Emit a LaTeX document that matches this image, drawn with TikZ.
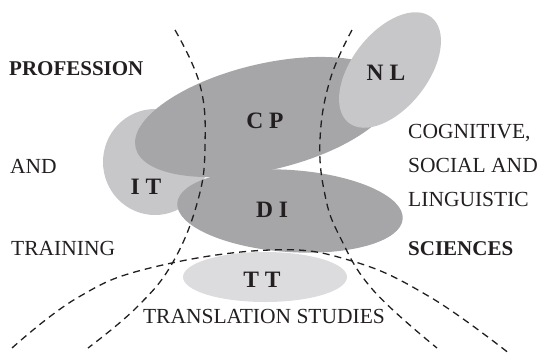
\documentclass[tikz,border=0pt]{standalone}
\usepackage{fontspec}
\setmainfont{Liberation Serif}
\definecolor{darkg}{HTML}{A6A6A9}
\definecolor{lightg}{HTML}{C7C7C9}
\definecolor{paleg}{HTML}{DCDCDE}
\definecolor{ink}{HTML}{231F20}
\begin{document}
\begin{tikzpicture}[x=1pt,y=-1pt,
  divider/.style={dash pattern=on 7pt off 5pt, line width=1.3pt, draw=ink},
  lbl/.style={font=\fontsize{23.5}{26}\selectfont\bfseries, text=ink, anchor=base, inner sep=0pt},
  side/.style={font=\fontsize{21.5}{24}\selectfont, text=ink, anchor=base west, inner sep=0pt},
  sideb/.style={side, font=\fontsize{21}{24}\selectfont\bfseries}]
\useasboundingbox (0,0) rectangle (537,357);
% shapes
\fill[lightg] (155,162) ellipse [x radius=52pt, y radius=53pt];
\fill[darkg, rotate around={13.4:(265,117)}] (265,117) ellipse [x radius=133pt, y radius=53pt];
\fill[darkg, rotate around={-4:(290,211)}] (290,211) ellipse [x radius=113pt, y radius=41pt];
\fill[paleg] (265,277) ellipse [x radius=82pt, y radius=25pt];
\fill[lightg, rotate around={52:(390,70)}] (390,70) ellipse [x radius=67pt, y radius=38pt];
% dashed dividers
\draw[divider] plot[smooth, tension=0.7] coordinates {(175,30) (200,85) (205,145) (198,200) (173,262) (137,307) (88,348)};
\draw[divider] plot[smooth, tension=0.7] coordinates {(352,30) (330,80) (320,140) (325,195) (340,237) (373,290) (437,348)};
\draw[divider] plot[smooth, tension=0.7] coordinates {(12,348) (77,298) (150,268) (270,250) (352,261) (430,297) (510,354)};
% labels
\node[lbl] (cp) at (265,128) {C P};
\node[lbl] (nl) at (386,80) {N L};
\node[lbl] (it) at (146,194) {I T};
\node[lbl] (di) at (272,217) {D I};
\node[lbl] (tt) at (262,287) {T T};
% side texts
\node[sideb] (prof) at (9,75) {PROFESSION};
\node[side] (and) at (10,173) {AND};
\node[side] (train) at (11,255) {TRAINING};
\node[side] (cog) at (408,138) {COGNITIVE,};
\node[side] (soc) at (408,172) {SOCIAL AND};
\node[side] (ling) at (408,206) {LINGUISTIC};
\node[sideb] (sci) at (408,255) {SCIENCES};
\node[side, anchor=base] (ts) at (264,323) {TRANSLATION STUDIES};
\end{tikzpicture}
\end{document}
